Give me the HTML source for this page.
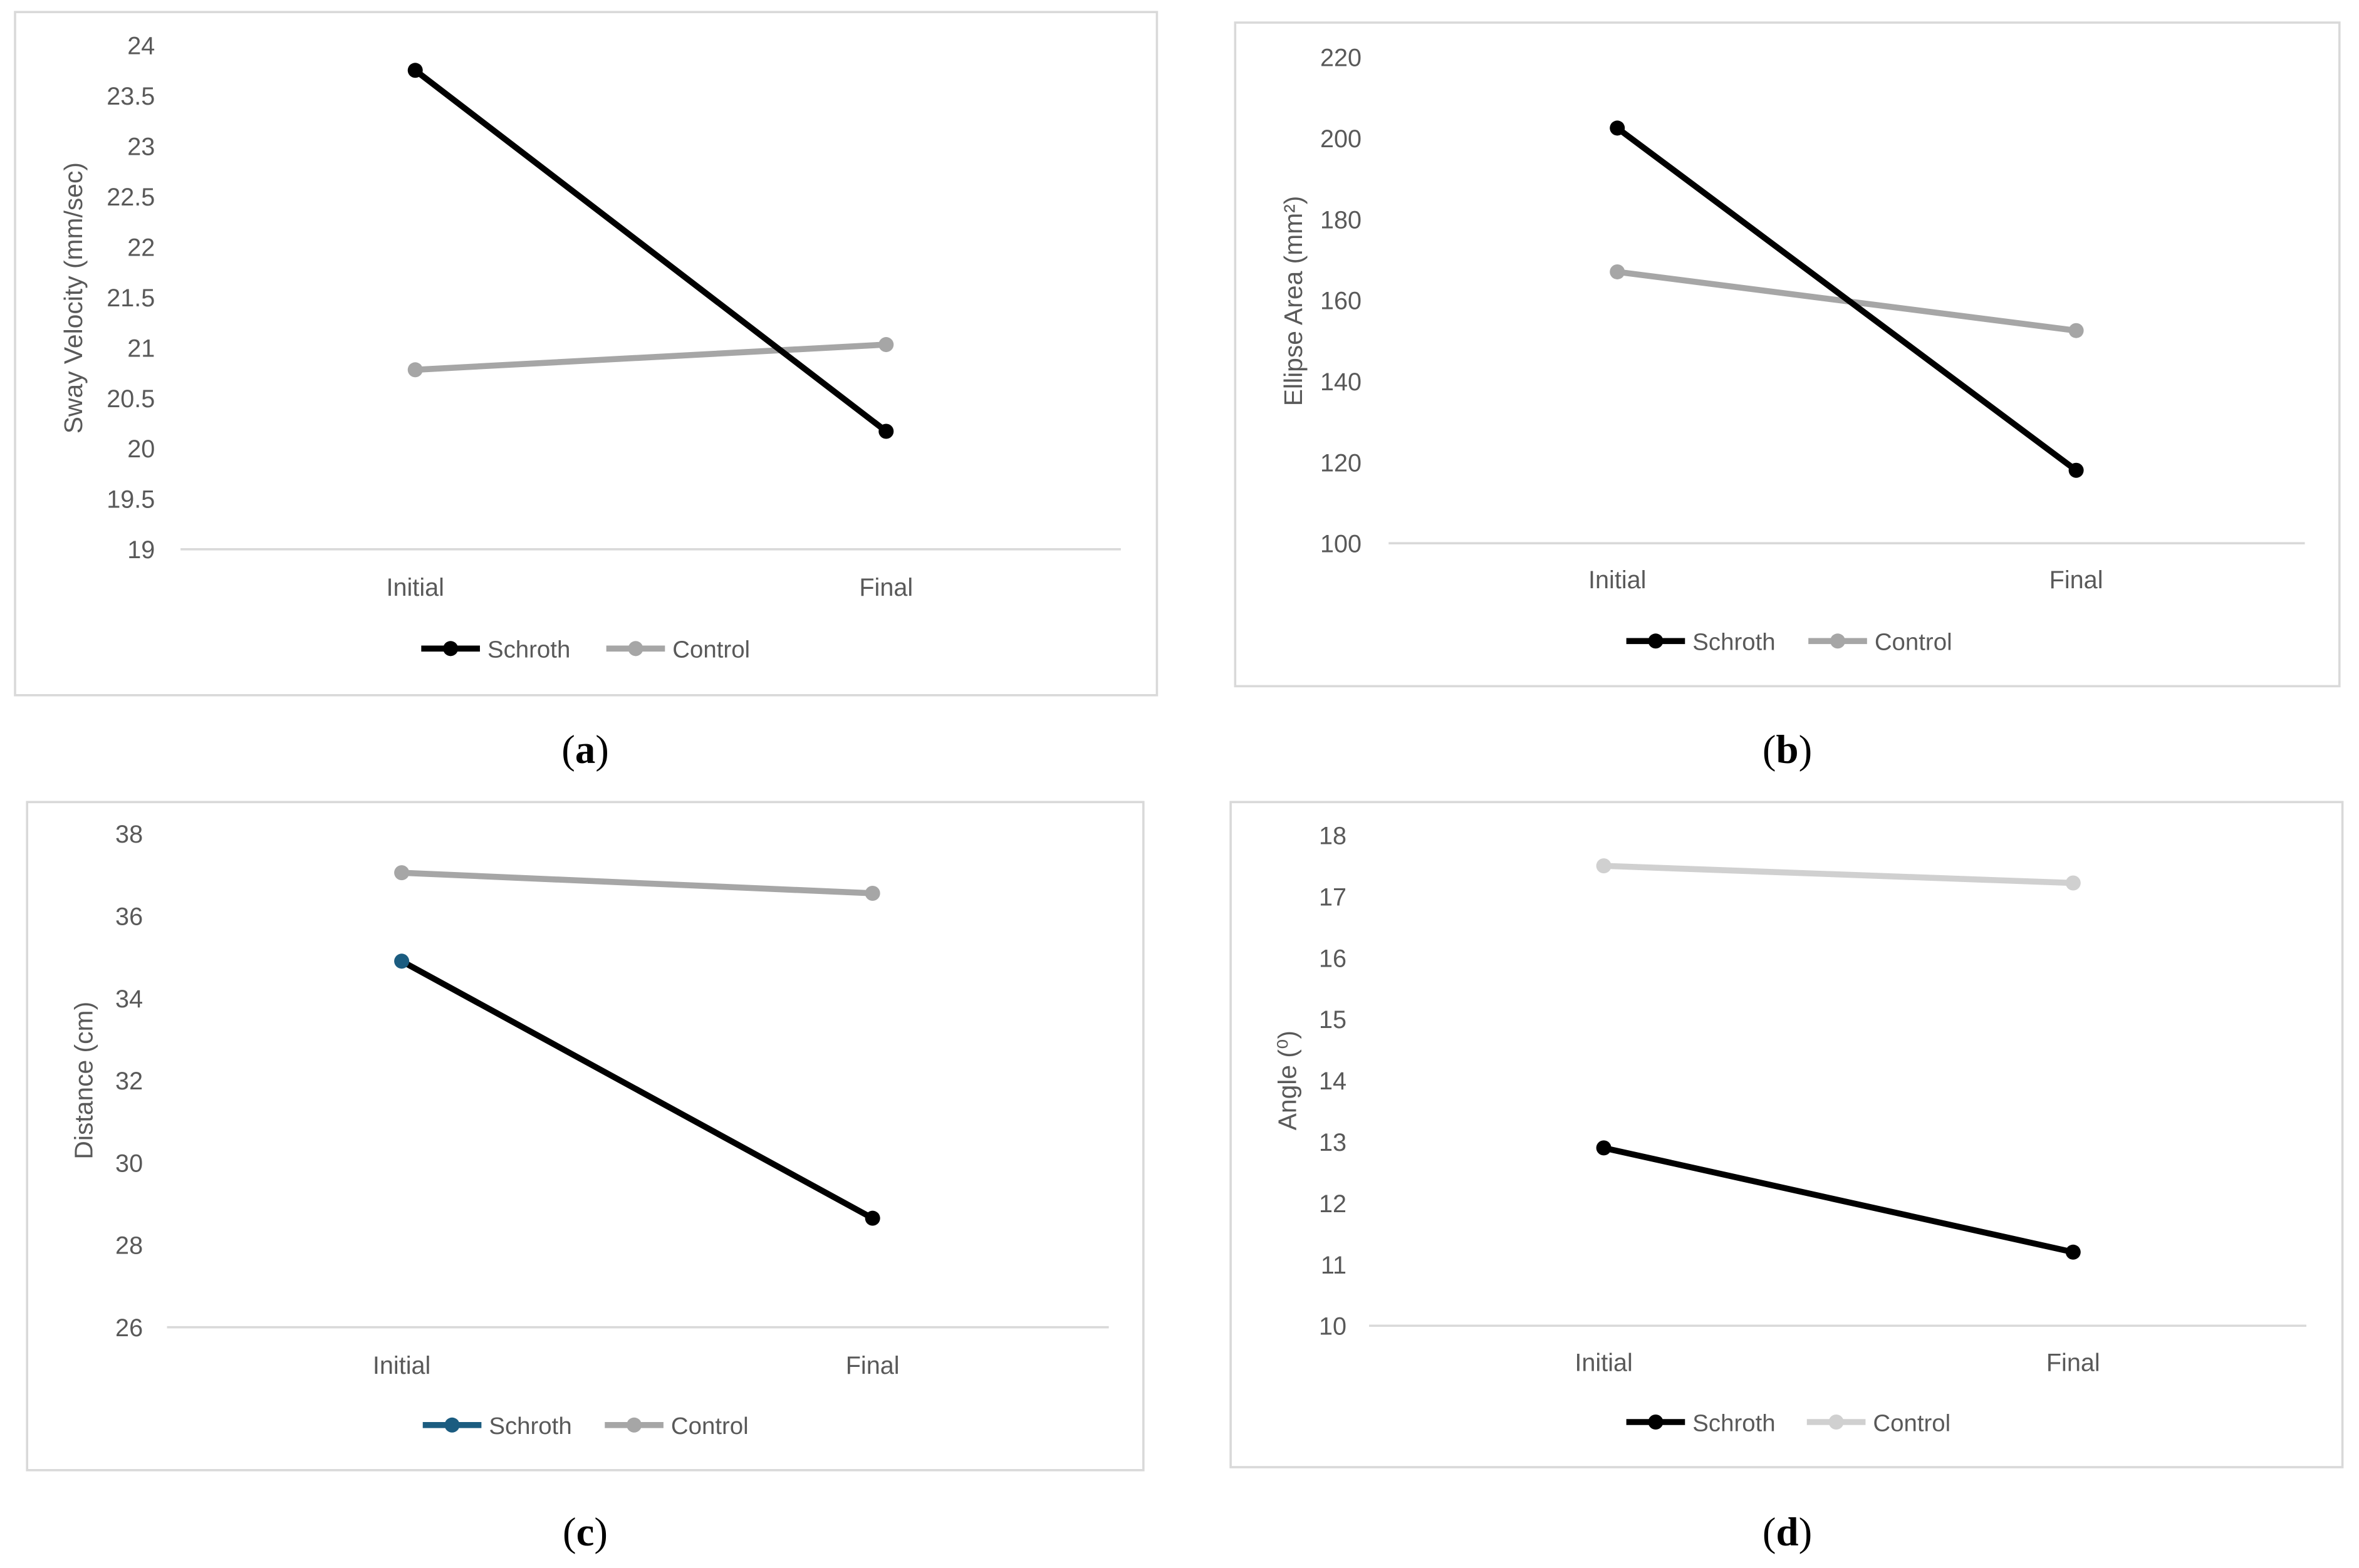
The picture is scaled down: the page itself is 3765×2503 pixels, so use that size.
<!DOCTYPE html>
<html><head><meta charset="utf-8"><style>
html,body{margin:0;padding:0;background:#fff;}
svg{display:block;}
text{font-family:"Liberation Sans",sans-serif;}
</style></head>
<body>
<svg id="fig" width="3765" height="2503" viewBox="0 0 1568 1042" preserveAspectRatio="none" xmlns="http://www.w3.org/2000/svg"></svg>
<script>
const categories = ["Initial", "Final"];
const seriesNames = ["Schroth", "Control"];
const aSchroth = [23.75, 20.17];
const aControl = [20.78, 21.03];
const aTicks = ["19","19.5","20","20.5","21","21.5","22","22.5","23","23.5","24"];
const bSchroth = [202.5, 118];
const bControl = [167, 152.5];
const bTicks = ["100","120","140","160","180","200","220"];
const cSchroth = [34.9, 28.65];
const cControl = [37.05, 36.55];
const cTicks = ["26","28","30","32","34","36","38"];
const dSchroth = [12.9, 11.2];
const dControl = [17.5, 17.22];
const dTicks = ["10","11","12","13","14","15","16","17","18"];

const NS = "http://www.w3.org/2000/svg";
const svg = document.getElementById("fig");
function mk(tag, attrs, parent, txt){
  const e = document.createElementNS(NS, tag);
  for (const k in attrs) e.setAttribute(k, attrs[k]);
  if (txt !== undefined) e.textContent = txt;
  parent.appendChild(e);
  return e;
}

const panels = [
  {id:"a", box:[10,8,769,462], top:30, bot:365, gx:[120,745], cx:[276,589], lblX:103, catY:390, legY:431, leg:[280,403],
   ticks:aTicks, s:aSchroth, c:aControl, title:"Sway Velocity (mm/sec)", tx:50, ty:198, cap:[389,498], sCol:"#000", cCol:"#a6a6a6", firstMarker:"#000"},
  {id:"b", box:[821,15,1555,456], top:38, bot:361, gx:[923,1532], cx:[1075,1380], lblX:905, catY:385, legY:426, leg:[1081,1202],
   ticks:bTicks, s:bSchroth, c:bControl, title:"Ellipse Area (mm²)", tx:861, ty:200, cap:[1188,498], sCol:"#000", cCol:"#a6a6a6", firstMarker:"#000"},
  {id:"c", box:[18,533,760,977], top:554, bot:882, gx:[111,737], cx:[267,580], lblX:95, catY:907, legY:947, leg:[281,402],
   ticks:cTicks, s:cSchroth, c:cControl, title:"Distance (cm)", tx:57, ty:718, cap:[389,1018], sCol:"#000", cCol:"#a6a6a6", firstMarker:"#1b5c80", legCol:"#1b5c80"},
  {id:"d", box:[818,533,1557,975], top:555, bot:881, gx:[910,1533], cx:[1066,1378], lblX:895, catY:905, legY:945, leg:[1081,1201],
   ticks:dTicks, s:dSchroth, c:dControl, title:"Angle  (⁰)", tx:857, ty:718, cap:[1188,1018], sCol:"#000", cCol:"#d0d0d0", firstMarker:"#000"}
];

panels.forEach(p => {
  const g = mk("g", {}, svg);
  
  
  const fr = mk("rect", {x:p.box[0], y:p.box[1], width:p.box[2]-p.box[0], height:p.box[3]-p.box[1], fill:"#fff", stroke:"#d9d9d9", "stroke-width":1.5}, g);
  
  
  const lo = parseFloat(p.ticks[0]), hi = parseFloat(p.ticks[p.ticks.length-1]);
  const y = v => p.bot - (v - lo) / (hi - lo) * (p.bot - p.top);
  const x = i => p.cx[i];
  const base = mk("line", {x1:p.gx[0], x2:p.gx[1], y1:p.bot, y2:p.bot, stroke:"#d9d9d9", "stroke-width":1.5}, g);
  
  
  p.ticks.forEach(t => {
    const tl = mk("text", {x:p.lblX, y:y(parseFloat(t))+6, "text-anchor":"end", "font-size":16.5, fill:"#595959"}, g, t);
    
    
  });
  categories.forEach((cat, i) => {
    const cl = mk("text", {x:x(i), y:p.catY+6, "text-anchor":"middle", "font-size":16.5, fill:"#595959"}, g, cat);
    
    
  });
  const yt = mk("text", {x:p.tx, y:p.ty, transform:"rotate(-90 "+p.tx+" "+p.ty+")", "text-anchor":"middle", "dominant-baseline":"middle", "font-size":17, fill:"#595959"}, g, p.title);
  
  
  const series = [[p.c, p.cCol, "control"], [p.s, p.sCol, "schroth"]];
  series.forEach(([vals, col, nm]) => {
    const pl = mk("polyline", {points: vals.map((v,i)=>x(i)+","+y(v)).join(" "), fill:"none", stroke:col, "stroke-width":4, "stroke-linecap":"round"}, g);
    
    
    vals.forEach((v,i) => {
      const mc = (nm==="schroth" && i===0) ? p.firstMarker : col;
      const pt = mk("circle", {cx:x(i), cy:y(v), r:5, fill:mc}, g);
      
      
    });
  });
  const legCols = [p.legCol || p.sCol, p.cCol];
  seriesNames.forEach((nm, i) => {
    const lx = p.leg[i];
    const lg = mk("g", {}, g);
    
    
    mk("line", {x1:lx, x2:lx+39, y1:p.legY, y2:p.legY, stroke:legCols[i], "stroke-width":4}, lg);
    mk("circle", {cx:lx+19.5, cy:p.legY, r:5, fill:legCols[i]}, lg);
    mk("text", {x:lx+44, y:p.legY+6, "font-size":16, fill:"#595959"}, lg, nm);
  });
  const cap = mk("text", {x:p.cap[0], y:p.cap[1]+9, "text-anchor":"middle", "font-size":27, fill:"#000", style:"font-family:'Liberation Serif',serif"}, svg);
  
  
  mk("tspan", {}, cap, "(");
  mk("tspan", {"font-weight":"bold"}, cap, p.id);
  mk("tspan", {}, cap, ")");
});
</script>
</body></html>
